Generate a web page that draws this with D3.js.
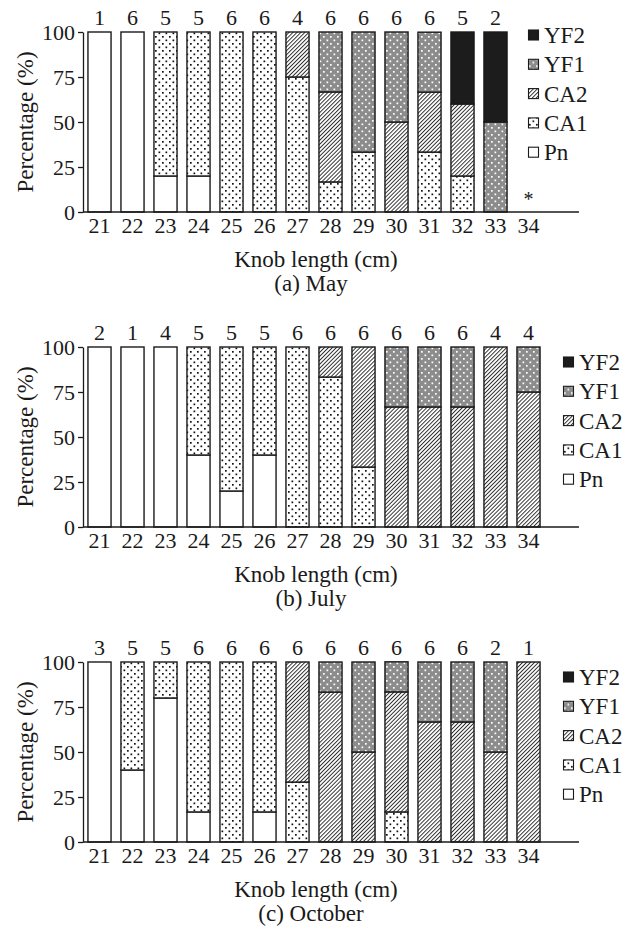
<!DOCTYPE html>
<html>
<head>
<meta charset="utf-8">
<title>Knob length stages</title>
<script src="https://cdn.jsdelivr.net/npm/d3@7/dist/d3.min.js"></script>
<style>
	html, body { margin: 0; padding: 0; background: #fff; }
	svg { display: block; }
	text { font-family: "Liberation Serif", "DejaVu Serif", serif; fill: #1a1a1a; }
</style>
</head>
<body>
<div id="chart"></div>
<script>
'use strict';

// knob length classes (cm)
var knobLength = [21, 22, 23, 24, 25, 26, 27, 28, 29, 30, 31, 32, 33, 34];

// stages, bottom to top
var stages = ['Pn', 'CA1', 'CA2', 'YF1', 'YF2'];
var yTicks = [0, 25, 50, 75, 100];

// (a) May, percentage per stage
var mayPn  = [100, 100, 20, 20, 0, 0, 0, 0, 0, 0, 0, 0, 0, 0];
var mayCA1 = [0, 0, 80, 80, 100, 100, 75, 16.7, 33.3, 0, 33.3, 20, 0, 0];
var mayCA2 = [0, 0, 0, 0, 0, 0, 25, 50, 0, 50, 33.3, 40, 0, 0];
var mayYF1 = [0, 0, 0, 0, 0, 0, 0, 33.3, 66.7, 50, 33.3, 0, 50, 0];
var mayYF2 = [0, 0, 0, 0, 0, 0, 0, 0, 0, 0, 0, 40, 50, 0];
var mayN   = [1, 6, 5, 5, 6, 6, 4, 6, 6, 6, 6, 5, 2, null];

// (b) July
var julPn  = [100, 100, 100, 40, 20, 40, 0, 0, 0, 0, 0, 0, 0, 0];
var julCA1 = [0, 0, 0, 60, 80, 60, 100, 83.3, 33.3, 0, 0, 0, 0, 0];
var julCA2 = [0, 0, 0, 0, 0, 0, 0, 16.7, 66.7, 66.7, 66.7, 66.7, 100, 75];
var julYF1 = [0, 0, 0, 0, 0, 0, 0, 0, 0, 33.3, 33.3, 33.3, 0, 25];
var julYF2 = [0, 0, 0, 0, 0, 0, 0, 0, 0, 0, 0, 0, 0, 0];
var julN   = [2, 1, 4, 5, 5, 5, 6, 6, 6, 6, 6, 6, 4, 4];

// (c) October
var octPn  = [100, 40, 80, 16.7, 0, 16.7, 0, 0, 0, 0, 0, 0, 0, 0];
var octCA1 = [0, 60, 20, 83.3, 100, 83.3, 33.3, 0, 0, 16.7, 0, 0, 0, 0];
var octCA2 = [0, 0, 0, 0, 0, 0, 66.7, 83.3, 50, 66.7, 66.7, 66.7, 50, 100];
var octYF1 = [0, 0, 0, 0, 0, 0, 0, 16.7, 50, 16.7, 33.3, 33.3, 50, 0];
var octYF2 = [0, 0, 0, 0, 0, 0, 0, 0, 0, 0, 0, 0, 0, 0];
var octN   = [3, 5, 5, 6, 6, 6, 6, 6, 6, 6, 6, 6, 2, 1];

var panels = [
	{ title: '(a) May', series: [mayPn, mayCA1, mayCA2, mayYF1, mayYF2], n: mayN, empty: [34], legendX: 528, legendY: 35 },
	{ title: '(b) July', series: [julPn, julCA1, julCA2, julYF1, julYF2], n: julN, empty: [], legendX: 563, legendY: 47 },
	{ title: '(c) October', series: [octPn, octCA1, octCA2, octYF1, octYF2], n: octN, empty: [], legendX: 563, legendY: 47 }
];

// layout
var W = 632, H = 934;
var panelH = 315;
var left = 83, axisEnd = 579;
var plotTop = 32, plotBottom = 212;
var fontTick = 22, fontTitle = 23;

var svg = d3.select('#chart').append('svg')
	.attr('width', W)
	.attr('height', H);

// fill patterns
var defs = svg.append('defs');

var dots = function(id, bg, fg){
	var p = defs.append('pattern')
		.attr('id', id)
		.attr('patternUnits', 'userSpaceOnUse')
		.attr('width', 7)
		.attr('height', 7);
	p.append('rect').attr('width', 7).attr('height', 7).attr('fill', bg);
	p.append('rect').attr('x', 1).attr('y', 1).attr('width', 1.7).attr('height', 1.7).attr('fill', fg);
	p.append('rect').attr('x', 4.5).attr('y', 4.5).attr('width', 1.7).attr('height', 1.7).attr('fill', fg);
};
dots('pat-ca1', '#fff', '#111');
dots('pat-yf1', '#8c8c8c', '#fff');

var hatch = defs.append('pattern')
	.attr('id', 'pat-ca2')
	.attr('patternUnits', 'userSpaceOnUse')
	.attr('width', 2.8)
	.attr('height', 2.8)
	.attr('patternTransform', 'rotate(45)');
hatch.append('rect').attr('width', 2.8).attr('height', 2.8).attr('fill', '#fff');
hatch.append('line')
	.attr('x1', 0.5).attr('y1', 0).attr('x2', 0.5).attr('y2', 2.8)
	.attr('stroke', '#111').attr('stroke-width', 0.85);

var fills = {
	Pn: '#fff',
	CA1: 'url(#pat-ca1)',
	CA2: 'url(#pat-ca2)',
	YF1: 'url(#pat-yf1)',
	YF2: '#1c1c1c'
};

// scales, shared by all panels
var x = d3.scaleBand()
	.domain(knobLength)
	.range([left, left + 33 * knobLength.length])
	.paddingInner(0.3)
	.paddingOuter(0.15);

var y = d3.scaleLinear()
	.domain([0, 100])
	.range([plotBottom, plotTop]);

var stack = d3.stack().keys(stages);

panels.forEach(function(p, pi){

	var g = svg.append('g')
		.attr('transform', 'translate(0,' + (pi * panelH) + ')');

	// rows for the stack
	var rows = knobLength.map(function(k, i){
		var r = { knob: k };
		stages.forEach(function(s, si){ r[s] = p.series[si][i]; });
		return r;
	});

	// bars
	var layers = g.selectAll('g.layer')
		.data(stack(rows))
		.enter()
		.append('g')
		.attr('class', 'layer')
		.attr('fill', function(d){ return fills[d.key]; });

	layers.selectAll('rect')
		.data(function(d){ return d.filter(function(v){ return v[1] - v[0] > 0; }); })
		.enter()
		.append('rect')
		.attr('x', function(d){ return x(d.data.knob); })
		.attr('y', function(d){ return y(d[1]); })
		.attr('width', x.bandwidth())
		.attr('height', function(d){ return y(d[0]) - y(d[1]); })
		.attr('stroke', '#1a1a1a')
		.attr('stroke-width', 1.4);

	// y axis
	var yAxis = g.append('g')
		.attr('transform', 'translate(' + left + ',0)')
		.call(d3.axisLeft(y).tickValues(yTicks).tickSize(5).tickSizeOuter(0).tickPadding(3));
	yAxis.select('.domain').attr('stroke', '#1a1a1a').attr('stroke-width', 1.3);
	yAxis.selectAll('.tick line').attr('stroke', '#1a1a1a').attr('stroke-width', 1.3);
	yAxis.selectAll('.tick text')
		.attr('font-family', '"Liberation Serif", serif')
		.attr('font-size', fontTick)
		.attr('fill', '#1a1a1a');

	// x axis line runs past the last class
	g.append('line')
		.attr('x1', left).attr('x2', axisEnd)
		.attr('y1', y(0)).attr('y2', y(0))
		.attr('stroke', '#1a1a1a')
		.attr('stroke-width', 1.3);

	var xAxis = g.append('g')
		.attr('transform', 'translate(0,' + y(0) + ')')
		.call(d3.axisBottom(x).tickSize(0).tickPadding(5));
	xAxis.select('.domain').remove();
	xAxis.selectAll('.tick text')
		.attr('font-family', '"Liberation Serif", serif')
		.attr('font-size', fontTick)
		.attr('fill', '#1a1a1a');

	// sample sizes on top
	g.selectAll('text.count')
		.data(knobLength.filter(function(k, i){ return p.n[i] !== null; }))
		.enter()
		.append('text')
		.attr('class', 'count')
		.attr('x', function(d){ return x(d) + x.bandwidth() / 2; })
		.attr('y', y(100) - 7)
		.attr('text-anchor', 'middle')
		.attr('font-size', fontTick)
		.text(function(d){ return p.n[knobLength.indexOf(d)]; });

	// no sample mark
	g.selectAll('text.empty')
		.data(p.empty)
		.enter()
		.append('text')
		.attr('class', 'empty')
		.attr('x', function(d){ return x(d) + x.bandwidth() / 2; })
		.attr('y', y(0) - 6)
		.attr('text-anchor', 'middle')
		.attr('font-size', 20)
		.text('*');

	// axis titles
	g.append('text')
		.attr('transform', 'translate(33,' + ((plotTop + plotBottom) / 2) + ') rotate(-90)')
		.attr('text-anchor', 'middle')
		.attr('font-size', fontTitle)
		.text('Percentage (%)');

	g.append('text')
		.attr('x', 316)
		.attr('y', 267)
		.attr('text-anchor', 'middle')
		.attr('font-size', fontTitle)
		.text('Knob length (cm)');

	g.append('text')
		.attr('x', 311)
		.attr('y', 291)
		.attr('text-anchor', 'middle')
		.attr('font-size', fontTitle)
		.text(p.title);

	// legend, top stage first
	var legend = g.selectAll('g.legend')
		.data(stages.slice().reverse())
		.enter()
		.append('g')
		.attr('class', 'legend')
		.attr('transform', function(d, i){
			return 'translate(' + p.legendX + ',' + (p.legendY + i * 29.3) + ')';
		});

	legend.append('rect')
		.attr('x', 0.5)
		.attr('y', -5)
		.attr('width', 10)
		.attr('height', 10)
		.attr('fill', function(d){ return fills[d]; })
		.attr('stroke', '#1a1a1a')
		.attr('stroke-width', 1.1);

	legend.append('text')
		.attr('x', 16)
		.attr('y', 8)
		.attr('font-size', fontTitle)
		.text(function(d){ return d; });
});
</script>
</body>
</html>
